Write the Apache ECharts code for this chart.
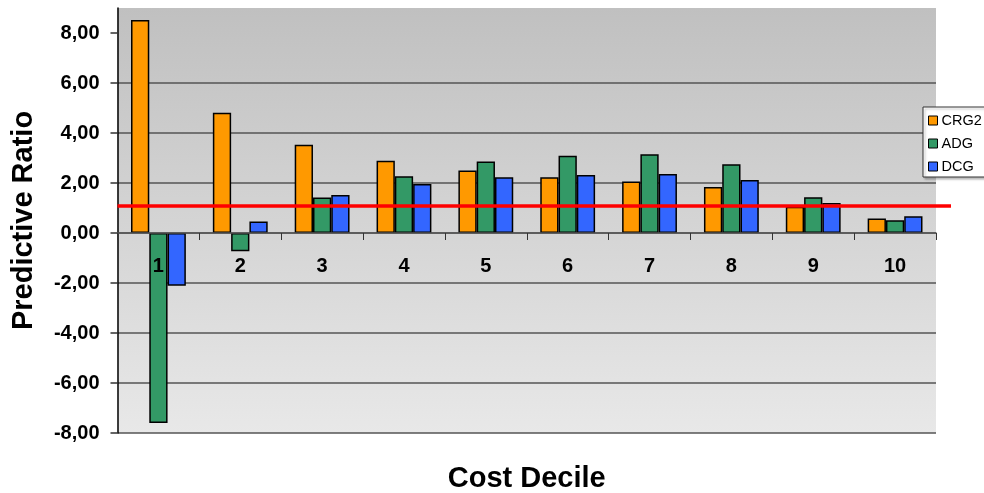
<!DOCTYPE html>
<html>
<head>
<meta charset="utf-8">
<script src="https://cdn.jsdelivr.net/npm/echarts@6/dist/echarts.min.js"></script>
<style>
  html, body { margin: 0; padding: 0; background: #ffffff; }
  #chart { width: 984px; height: 493px; }
</style>
</head>
<body>
<div id="chart"></div>
<script>
// Predictive ratio by cost decile for three grouping models
const deciles = ['1', '2', '3', '4', '5', '6', '7', '8', '9', '10'];
const crg2 = [8.52, 4.81, 3.53, 2.89, 2.50, 2.23, 2.06, 1.84, 1.05, 0.58];
const adg  = [-7.60, -0.73, 1.42, 2.27, 2.86, 3.09, 3.15, 2.75, 1.43, 0.51];
const dcg  = [-2.11, 0.46, 1.52, 1.96, 2.23, 2.32, 2.36, 2.12, 1.20, 0.67];
const seriesNames = ['CRG2', 'ADG', 'DCG'];
const yTicks = [-8, -6, -4, -2, 0, 2, 4, 6, 8];
const yMin = -8, yMax = 9;
const referenceRatio = 1.08;

const FONT = '"Liberation Sans", Arial, sans-serif';
const colors = ['#FF9900', '#339966', '#3366FF'];
const fmt = v => v.toFixed(2).replace('.', ',');

const chart = echarts.init(document.getElementById('chart'), null, { renderer: 'canvas' });

const barSeries = [crg2, adg, dcg].map((vals, i) => ({
  name: seriesNames[i],
  type: 'bar',
  xAxisIndex: 0,
  yAxisIndex: 0,
  data: vals,
  barGap: '0%',
  barCategoryGap: '33%',
  itemStyle: { color: colors[i], borderColor: '#000000', borderWidth: 1.5 },
  emphasis: { disabled: true },
  z: 2
}));

chart.setOption({
  animation: false,
  textStyle: { fontFamily: FONT },
  grid: [
    {
      left: 117.5, right: 48, top: 8, bottom: 60,
      outerBoundsMode: 'none',
      containLabel: false,
      show: true,
      borderWidth: 0,
      backgroundColor: new echarts.graphic.LinearGradient(0, 0, 0, 1, [
        { offset: 0, color: '#c0c0c0' },
        { offset: 1, color: '#e8e8e8' }
      ])
    },
    { left: 117.5, right: 33, top: 8, bottom: 60, outerBoundsMode: 'none', containLabel: false }
  ],
  legend: {
    data: seriesNames,
    orient: 'vertical',
    left: 923,
    top: 107,
    padding: [6, 12, 3, 5],
    itemGap: 8,
    itemWidth: 9,
    itemHeight: 9,
    icon: 'rect',
    backgroundColor: '#ffffff',
    borderColor: '#333333',
    borderWidth: 1,
    borderRadius: 0,
    shadowColor: 'rgba(0,0,0,0.25)',
    shadowOffsetX: 2,
    shadowOffsetY: 2,
    shadowBlur: 2,
    itemStyle: { borderColor: '#000000', borderWidth: 1 },
    textStyle: { fontFamily: FONT, fontSize: 14.5, color: '#000000', padding: [0, 0, 0, -1] },
    selectedMode: false
  },
  xAxis: [
    {
      type: 'category',
      gridIndex: 0,
      z: 10,
      data: deciles,
      name: 'Cost Decile',
      nameLocation: 'middle',
      nameGap: 31,
      nameTextStyle: { fontFamily: FONT, fontSize: 29, fontWeight: 'bold', color: '#000000' },
      axisLine: { onZero: true, lineStyle: { color: '#555555', width: 1.5 } },
      axisTick: { show: true, length: 7, lineStyle: { color: '#333333', width: 1 } },
      axisLabel: {
        margin: -177,
        fontFamily: FONT, fontSize: 20, fontWeight: 'bold', color: '#000000'
      },
      splitLine: { show: false }
    },
    {
      type: 'value',
      gridIndex: 1,
      min: 0, max: 1,
      show: false
    }
  ],
  yAxis: [
    {
      type: 'value',
      gridIndex: 0,
      min: yMin,
      max: yMax,
      interval: 2,
      name: 'Predictive Ratio',
      nameLocation: 'middle',
      nameGap: 79,
      nameTextStyle: { fontFamily: FONT, fontSize: 29, fontWeight: 'bold', color: '#000000' },
      axisLine: { show: true, onZero: false, lineStyle: { color: '#000000', width: 1.5 } },
      axisTick: {
        show: true, length: 7, customValues: yTicks,
        lineStyle: { color: '#333333', width: 1.5 }
      },
      axisLabel: {
        margin: 18,
        customValues: yTicks,
        formatter: v => fmt(v),
        fontFamily: FONT, fontSize: 20, fontWeight: 'bold', color: '#000000'
      },
      splitLine: {
        show: true, showMaxLine: false,
        lineStyle: { color: '#555555', width: 1.5 }
      }
    },
    {
      type: 'value',
      gridIndex: 1,
      min: yMin,
      max: yMax,
      show: false
    }
  ],
  series: barSeries.concat([{
    name: 'reference',
    type: 'line',
    xAxisIndex: 1,
    yAxisIndex: 1,
    data: [[0, referenceRatio], [1, referenceRatio]],
    symbol: 'none',
    silent: true,
    lineStyle: { color: '#ff0000', width: 3.5 },
    z: 5
  }])
});
</script>
</body>
</html>
